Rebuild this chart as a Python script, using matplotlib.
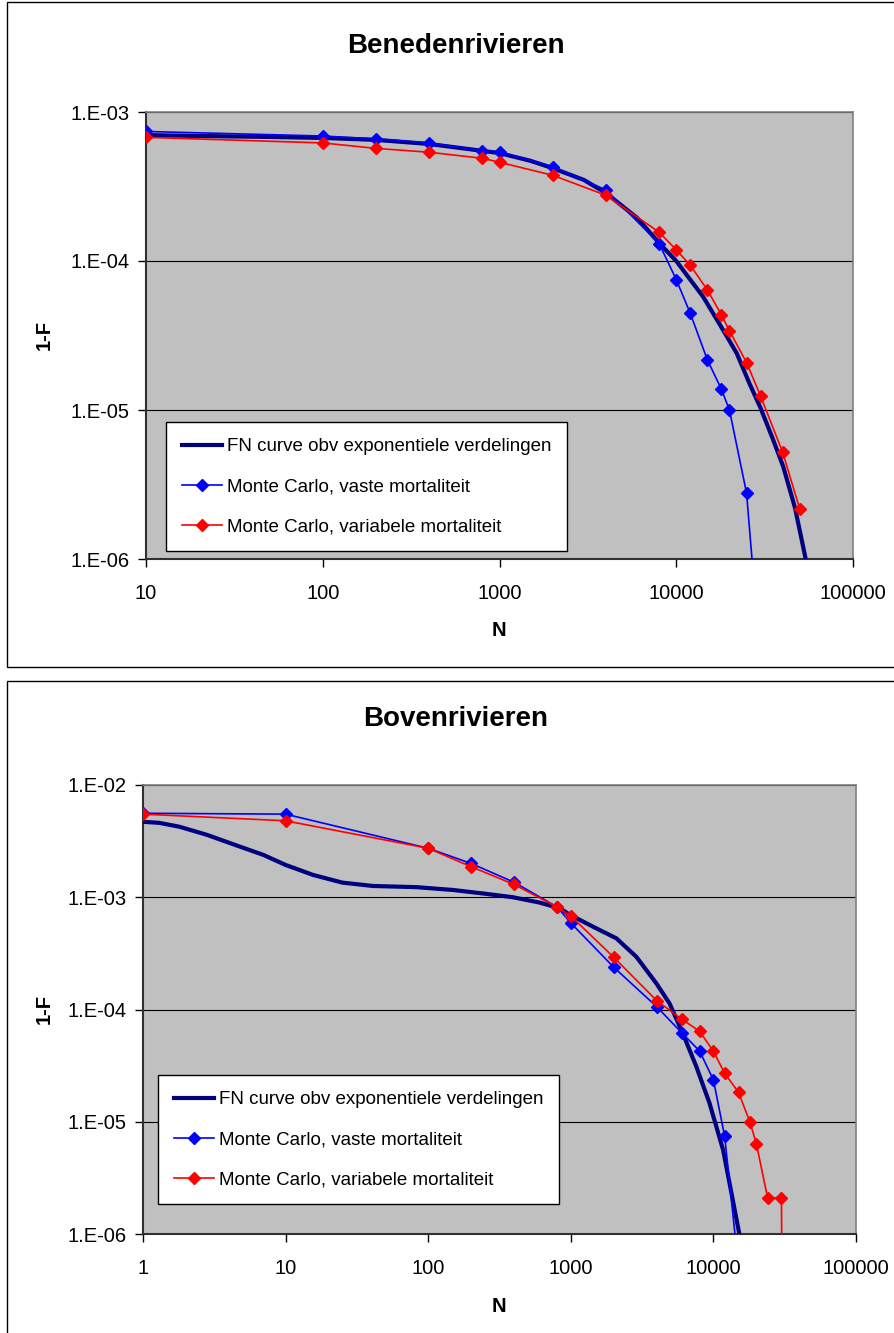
import matplotlib
matplotlib.use('Agg')
import matplotlib.pyplot as plt
from matplotlib.patches import Rectangle

plt.rcParams['font.family'] = ['Liberation Sans', 'DejaVu Sans']

# --- Benedenrivieren (top) ---
top_fn_N = [10, 20, 50, 100, 200, 400, 700, 1000, 1500, 2000, 3000, 4000, 6000, 8000,
            10000, 14200, 18000, 22000, 26000, 29800, 35000, 40300, 47000, 54700]
top_fn_p = [7.0e-4, 6.9e-4, 6.8e-4, 6.7e-4, 6.5e-4, 6.1e-4, 5.6e-4, 5.3e-4, 4.7e-4, 4.2e-4,
            3.5e-4, 2.86e-4, 1.95e-4, 1.32e-4, 1.0e-4, 5.75e-5, 3.6e-5, 2.4e-5, 1.5e-5,
            1.05e-5, 6.5e-6, 4.17e-6, 2.2e-6, 9.3e-7]
top_vast_N = [10, 100, 200, 400, 800, 1000, 2000, 4000, 8000, 10000, 12000, 15000,
              18000, 20000, 25000, 30000]
top_vast_p = [7.4e-4, 6.9e-4, 6.6e-4, 6.2e-4, 5.5e-4, 5.4e-4, 4.3e-4, 3.0e-4, 1.31e-4,
              7.5e-5, 4.46e-5, 2.17e-5, 1.38e-5, 1.0e-5, 2.76e-6, 2e-7]
top_var_N = [10, 100, 200, 400, 800, 1000, 2000, 4000, 8000, 10000, 12000, 15000,
             18000, 20000, 25000, 30000, 40000, 50000]
top_var_p = [6.76e-4, 6.2e-4, 5.7e-4, 5.37e-4, 4.89e-4, 4.6e-4, 3.76e-4, 2.76e-4, 1.56e-4,
             1.19e-4, 9.36e-5, 6.4e-5, 4.36e-5, 3.4e-5, 2.08e-5, 1.24e-5, 5.2e-6, 2.16e-6]

# --- Bovenrivieren (bottom) ---
bot_fn_N = [1, 1.3, 1.8, 2.8, 4.8, 7, 10, 15.6, 25, 41, 83, 150, 243, 393, 605, 836,
            982, 1430, 2090, 2880, 3980, 4930, 6110, 7590, 9400, 11700, 15300]
bot_fn_p = [4.7e-3, 4.6e-3, 4.25e-3, 3.6e-3, 2.82e-3, 2.38e-3, 1.94e-3, 1.58e-3, 1.35e-3,
            1.26e-3, 1.23e-3, 1.16e-3, 1.08e-3, 1.0e-3, 8.96e-4, 7.98e-4, 7.0e-4, 5.47e-4,
            4.3e-4, 2.95e-4, 1.71e-4, 1.13e-4, 6.1e-5, 3.1e-5, 1.46e-5, 5.6e-6, 9.6e-7]
bot_vast_N = [1, 10, 100, 200, 400, 800, 1000, 2000, 4000, 6000, 8000, 10000, 12000, 15000]
bot_vast_p = [5.6e-3, 5.5e-3, 2.73e-3, 2.0e-3, 1.36e-3, 8.2e-4, 5.9e-4, 2.38e-4, 1.06e-4,
              6.2e-5, 4.27e-5, 2.36e-5, 7.4e-6, 5e-7]
bot_var_N = [1, 10, 100, 200, 400, 800, 1000, 2000, 4000, 6000, 8000, 10000, 12000, 15000,
             18000, 20000, 24000, 30000, 30500]
bot_var_p = [5.5e-3, 4.8e-3, 2.73e-3, 1.87e-3, 1.3e-3, 8.2e-4, 6.8e-4, 2.92e-4, 1.2e-4,
             8.2e-5, 6.4e-5, 4.25e-5, 2.7e-5, 1.83e-5, 1.0e-5, 6.4e-6, 2.1e-6, 2.1e-6, 1e-7]

labels = ['FN curve obv exponentiele verdelingen',
          'Monte Carlo, vaste mortaliteit',
          'Monte Carlo, variabele mortaliteit']

top_xticks = [10, 100, 1000, 10000, 100000]
top_xlabels = ['10', '100', '1000', '10000', '100000']
top_yticks = [1e-6, 1e-5, 1e-4, 1e-3]
top_ylabels = ['1.E-06', '1.E-05', '1.E-04', '1.E-03']
bot_xticks = [1, 10, 100, 1000, 10000, 100000]
bot_xlabels = ['1', '10', '100', '1000', '10000', '100000']
bot_yticks = [1e-6, 1e-5, 1e-4, 1e-3, 1e-2]
bot_ylabels = ['1.E-06', '1.E-05', '1.E-04', '1.E-03', '1.E-02']

W, H = 894, 1333
fig = plt.figure(figsize=(W / 100, H / 100), dpi=100)

# panel borders
fig.patches.append(Rectangle((7 / W, 1 - 666.5 / H), 1.0, 665 / H, transform=fig.transFigure,
                             fill=False, edgecolor='black', lw=1.0))
fig.patches.append(Rectangle((7 / W, -0.01), 1.0, 1 - 681 / H + 0.01, transform=fig.transFigure,
                             fill=False, edgecolor='black', lw=1.0))


def make_panel(box, title, title_y, fnN, fnp, vN, vp, rN, rp, xt, xl, yt, yl, xlim, ylim,
               leg_box, xlab_y):
    ax = fig.add_axes([box[0] / W, 1 - box[3] / H, (box[2] - box[0]) / W, (box[3] - box[1]) / H])
    ax.set_facecolor('#C0C0C0')
    ax.set_xscale('log')
    ax.set_yscale('log')
    ax.set_xlim(xlim)
    ax.set_ylim(ylim)
    ax.plot(fnN, fnp, color='#000080', lw=3.0, label=labels[0], zorder=3)
    ax.plot(vN, vp, color='#0000FF', lw=1.2, marker='D', ms=6.5, label=labels[1], zorder=4)
    ax.plot(rN, rp, color='#FF0000', lw=1.2, marker='D', ms=6.5, label=labels[2], zorder=5)
    ax.set_xticks(xt)
    ax.set_xticklabels(xl)
    ax.set_yticks(yt)
    ax.set_yticklabels(yl)
    ax.minorticks_off()
    ax.tick_params(direction='out', length=6, width=1, labelsize=14.5, color='black')
    ax.tick_params(axis='x', pad=12)
    ax.tick_params(axis='y', pad=6)
    ax.yaxis.grid(True, color='black', lw=0.8)
    ax.set_axisbelow(True)
    for s in ['left', 'bottom']:
        ax.spines[s].set_color('#303030')
        ax.spines[s].set_linewidth(1.5)
    for s in ['top', 'right']:
        ax.spines[s].set_color('#808080')
        ax.spines[s].set_linewidth(1.2)
    fig.text(456 / W, 1 - title_y / H, title, ha='center', va='center',
             fontsize=20, fontweight='bold')
    fig.text(499 / W, 1 - xlab_y / H, 'N', ha='center', va='center',
             fontsize=14.5, fontweight='bold')
    fig.text(44 / W, 1 - (box[1] + box[3]) / 2 / H, '1-F', ha='center', va='center',
             rotation=90, fontsize=14.5, fontweight='bold')
    leg = ax.legend(loc='upper left',
                    bbox_to_anchor=(leg_box[0] / W, 1 - leg_box[1] / H),
                    bbox_transform=fig.transFigure, fontsize=13.5, frameon=True,
                    fancybox=False, framealpha=1, edgecolor='black', borderpad=0.85,
                    labelspacing=1.22, handlelength=2.15, handletextpad=0.25,
                    borderaxespad=0)
    leg.get_frame().set_linewidth(1.0)
    return ax


make_panel((146, 112, 853, 559), 'Benedenrivieren', 46,
           top_fn_N, top_fn_p, top_vast_N, top_vast_p, top_var_N, top_var_p,
           top_xticks, top_xlabels, top_yticks, top_ylabels, (10, 100000), (1e-6, 1e-3),
           (166, 422), 631)
make_panel((143, 785, 856, 1234), 'Bovenrivieren', 719,
           bot_fn_N, bot_fn_p, bot_vast_N, bot_vast_p, bot_var_N, bot_var_p,
           bot_xticks, bot_xlabels, bot_yticks, bot_ylabels, (1, 100000), (1e-6, 1e-2),
           (158, 1075), 1307)

fig.savefig('out.png', dpi=100)
